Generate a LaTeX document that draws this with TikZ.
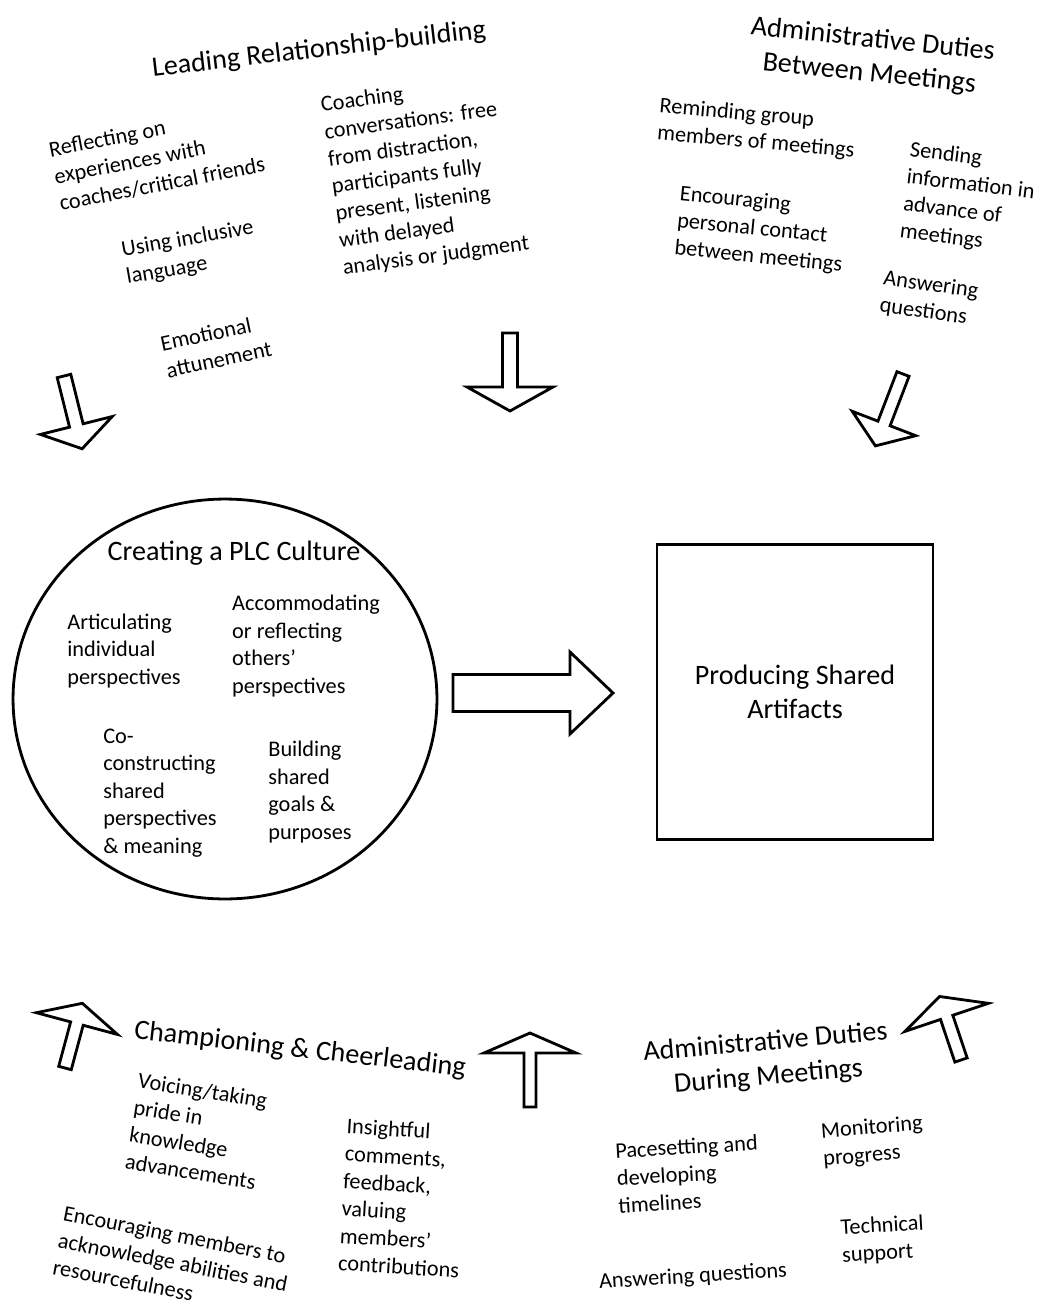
\documentclass[tikz,border=0pt]{standalone}
\usepackage{fontspec}
\setmainfont{Carlito}
\usetikzlibrary{shapes.geometric}

\tikzset{
  heading/.style={font=\fontsize{16}{19.5}\selectfont, align=center, inner sep=0pt},
  item/.style={font=\fontsize{12.7}{15.6}\selectfont, align=left, inner sep=0pt},
  hollow/.style={draw, line width=1.6pt, line join=miter, fill=white},
  frame/.style={draw, line width=1.6pt}
}
\newcommand{\hollowarrow}[6]{%
  \draw[hollow, shift={(#1)}, rotate=#2] (0,-#4) -- ({#3-#6},-#4) -- ({#3-#6},-#5) -- (#3,0) -- ({#3-#6},#5) -- ({#3-#6},#4) -- (0,#4) -- cycle;}

\begin{document}
\begin{tikzpicture}[x=0.02cm, y=-0.02cm]
\useasboundingbox (0,0) rectangle (1038,1304);

\node[heading, rotate=6.6] (lead) at (319,50) {Leading Relationship-building};
\node[item, rotate=11] (reflect) at (157,157) {Reflecting on\\experiences with\\coaches/critical friends};
\node[item, rotate=7.7] (coach) at (425,175) {Coaching\\conversations: free\\from distraction,\\participants fully\\present, listening\\with delayed\\analysis or judgment};
\node[item, rotate=10] (incl) at (190,253) {Using inclusive\\language};
\node[item, rotate=12] (emo) at (216,346) {Emotional\\attunement};

\node[heading, rotate=-6] (between) at (871,57) {Administrative Duties\\Between Meetings};
\node[item, rotate=-5] (remind) at (757,129) {Reminding group\\members of meetings};
\node[item, rotate=-7] (send) at (969,199) {Sending\\information in\\advance of\\meetings};
\node[item, rotate=-5.7] (contact) at (761,230) {Encouraging\\personal contact\\between meetings};
\node[item, rotate=-8] (answera) at (929,299) {Answering\\questions};

\node[frame, ellipse, minimum width=8.48cm, minimum height=8cm] (plc) at (225,699) {};
\node[heading] (culture) at (234,553) {Creating a PLC Culture};
\node[item] (artic) at (124,651) {Articulating\\individual\\perspectives};
\node[item] (accom) at (306,646) {Accommodating\\or reflecting\\others’\\perspectives};
\node[item] (cocon) at (160,793) {Co-\\constructing\\shared\\perspectives\\\& meaning};
\node[item] (goals) at (310,792) {Building\\shared\\goals \&\\purposes};
\node[frame, heading, minimum width=5.52cm, minimum height=5.9cm] (artifacts) at (795,692) {Producing Shared\\Artifacts};

\node[heading, rotate=-6.5] (cheer) at (300,1050) {Championing \& Cheerleading};
\node[item, rotate=-9] (voice) at (197,1131) {Voicing/taking\\pride in\\knowledge\\advancements};
\node[item, rotate=-11] (encour) at (173,1262) {Encouraging members to\\acknowledge abilities and\\resourcefulness};
\node[item, rotate=-3.5] (insight) at (403,1198) {Insightful\\comments,\\feedback,\\valuing\\members’\\contributions};

\node[heading, rotate=5] (during) at (767,1060) {Administrative Duties\\During Meetings};
\node[item, rotate=3.3] (pace) at (688,1174) {Pacesetting and\\developing\\timelines};
\node[item, rotate=4.8] (monitor) at (873,1142) {Monitoring\\progress};
\node[item, rotate=3.4] (tech) at (883,1240) {Technical\\support};
\node[item, rotate=3.6] (answerb) at (693,1277) {Answering questions};

\hollowarrow{64,376}{-76}{75}{7}{37}{24}
\hollowarrow{510,333}{-90}{78}{7.5}{43}{24}
\hollowarrow{903,374}{-111}{77}{6.5}{34}{24}
\hollowarrow{453,693}{0}{160}{18.5}{41}{43}
\hollowarrow{65,1068}{75}{67}{6.5}{42}{21}
\hollowarrow{530,1107}{90}{74}{6}{46}{20}
\hollowarrow{961,1060}{108.6}{67}{6.5}{44}{22}
\end{tikzpicture}
\end{document}
